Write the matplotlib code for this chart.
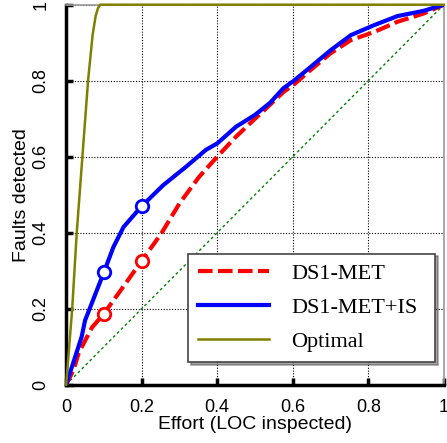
import numpy as np
import matplotlib
matplotlib.use("Agg")
import matplotlib.pyplot as plt

# effort (fraction of LOC inspected) and faults detected
met_x = [0.0, 0.02, 0.033, 0.068, 0.1, 0.147, 0.2, 0.252, 0.30, 0.352, 0.4, 0.45,
         0.5, 0.54, 0.575, 0.603, 0.647, 0.7, 0.754, 0.815, 0.877, 0.947, 1.0]
met_y = [0.0, 0.04, 0.083, 0.15, 0.187, 0.252, 0.326, 0.398, 0.477, 0.547, 0.60, 0.653,
         0.70, 0.737, 0.77, 0.79, 0.828, 0.872, 0.907, 0.928, 0.955, 0.977, 1.0]

metis_x = [0.0, 0.041, 0.05, 0.1, 0.125, 0.152, 0.2, 0.257, 0.318, 0.37, 0.4, 0.45,
           0.5, 0.54, 0.575, 0.603, 0.647, 0.7, 0.754, 0.815, 0.877, 0.947, 1.0]
metis_y = [0.0, 0.126, 0.169, 0.296, 0.362, 0.415, 0.47, 0.525, 0.574, 0.618, 0.635, 0.679,
           0.71, 0.742, 0.78, 0.80, 0.836, 0.88, 0.92, 0.946, 0.97, 0.984, 1.0]

opt_x = [0.0, 0.016, 0.028, 0.043, 0.058, 0.07, 0.078, 0.084, 0.09, 1.0]
opt_y = [0.0, 0.2, 0.4, 0.6, 0.8, 0.92, 0.97, 0.99, 1.0, 1.0]

# marked points at 10% and 20% effort
mark_x = [0.1, 0.2]
met_mark = [0.187, 0.326]
metis_mark = [0.296, 0.47]

fig = plt.figure(figsize=(4.47, 4.43), dpi=100)
ax = fig.add_axes([0.148, 0.1316, 0.845, 0.8578])

ax.plot([0, 1], [0, 1], color="green", lw=1.0, ls=(0, (2, 2)), zorder=2)
ax.plot(met_x, met_y, color="red", lw=3, ls=(0, (3.5, 1.3)), label="DS1-MET", zorder=3)
ax.plot(metis_x, metis_y, color="blue", lw=3, label="DS1-MET+IS", zorder=3)
ax.plot(opt_x, opt_y, color="#808000", lw=1.8, label="Optimal", zorder=4, clip_on=False)
ax.plot(mark_x, met_mark, ls="none", marker="o", ms=9, mfc="white", mec="red", mew=2, zorder=5)
ax.plot(mark_x, metis_mark, ls="none", marker="o", ms=9, mfc="white", mec="blue", mew=2, zorder=5)

ax.set_xlim(0, 1)
ax.set_ylim(0, 1)
ax.set_xticks(np.arange(0, 1.01, 0.2))
ax.set_yticks(np.arange(0, 1.01, 0.2))
ax.set_xticklabels(["0", "0.2", "0.4", "0.6", "0.8", "1"])
ax.set_yticklabels(["0", "0.2", "0.4", "0.6", "0.8", "1"])
ax.grid(True, color="black", ls=(0, (1, 1.5)), lw=0.8)
ax.set_axisbelow(True)

for s in ["left", "bottom"]:
    ax.spines[s].set_linewidth(2.5)
    ax.spines[s].set_color("black")
for s in ["top", "right"]:
    ax.spines[s].set_linewidth(1.2)
    ax.spines[s].set_color("#999999")

ax.tick_params(direction="in", length=5, width=2.5, color="black", labelsize=13,
               top=False, right=False)
ax.tick_params(axis="x", pad=10)
ax.tick_params(axis="y", pad=12)
for t in ax.get_xticklabels() + ax.get_yticklabels():
    t.set_family("Liberation Sans")
plt.setp(ax.get_yticklabels(), rotation=90, va="center", ha="right")

ax.set_xlabel("Effort (LOC inspected)", fontsize=14, family="Liberation Sans", labelpad=0)
ax.set_ylabel("Faults detected", fontsize=14, family="Liberation Sans", labelpad=2)

leg = ax.legend(loc="lower left", bbox_to_anchor=(0.323, 0.06, 0.653, 0.287), mode="expand",
                prop={"family": "Liberation Serif", "size": 16}, fancybox=False, shadow=True,
                handlelength=3.2, borderaxespad=0, labelspacing=0.6, borderpad=0.45,
                handletextpad=1.0, framealpha=1)
leg.get_frame().set_edgecolor("#444444")
leg.get_frame().set_linewidth(1.2)

fig.savefig("out.png", dpi=100)
